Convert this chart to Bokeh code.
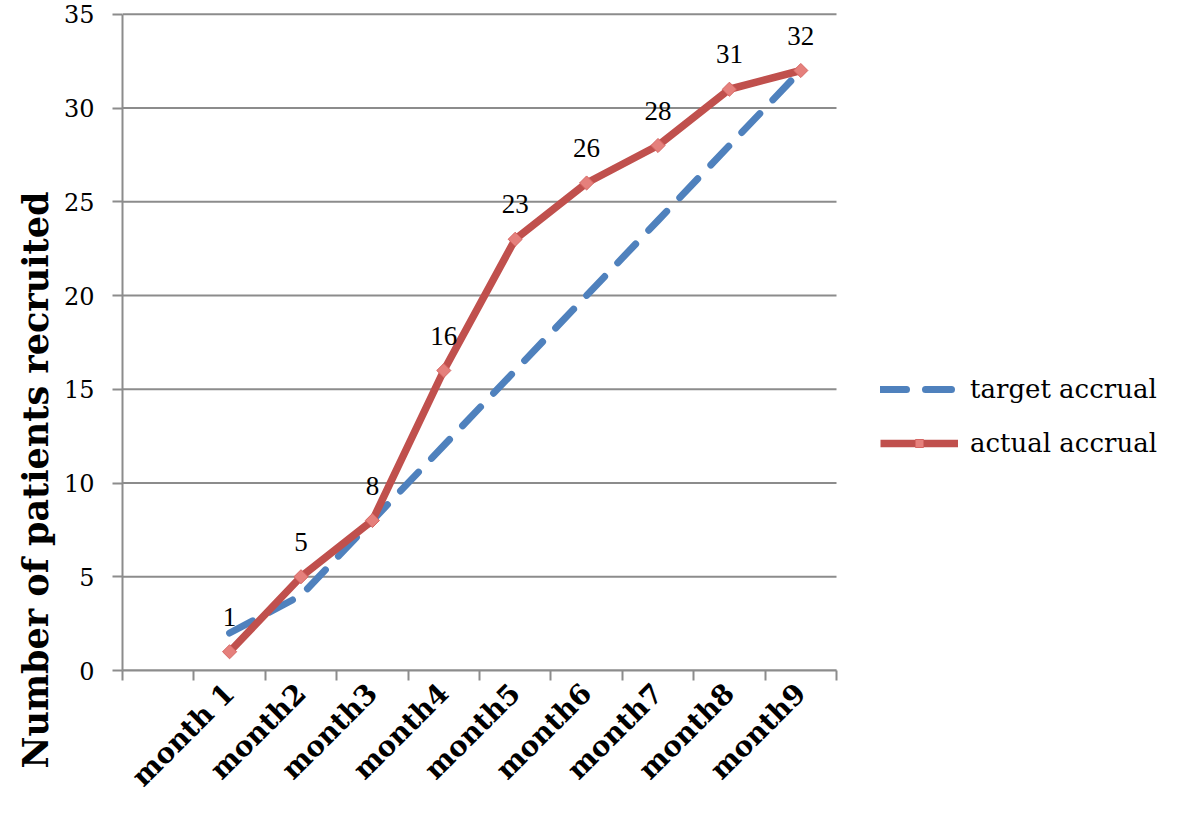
import math
from bokeh.plotting import figure
from bokeh.models import (Range1d, FixedTicker, ColumnDataSource, LabelSet, Title,
                          Legend, LegendItem)
from bokeh.embed import file_html
from bokeh.resources import INLINE

months = ["month 1", "month2", "month3", "month4", "month5",
          "month6", "month7", "month8", "month9"]
target = [2, 4, 8, 12, 16, 20, 24, 28, 32]
actual = [1, 5, 8, 16, 23, 26, 28, 31, 32]
y_ticks = [0, 5, 10, 15, 20, 25, 30, 35]
y_max = 35

# one empty slot precedes month 1 on the category axis
n_slots = len(months) + 1
xpos = [i + 1.5 for i in range(len(months))]

FONT = "DejaVu Serif"
GRID = "#8c8c8c"
RED = "#c0504d"
BLUE = "#4f81bd"

W, H = 1165, 807
LEFT, TOP, BOTTOM = 122, 10, 135
AXIS_W = 714  # pixel width of the category axis
x_end = n_slots * (W - LEFT) / AXIS_W  # frame extends right to hold the legend

p = figure(width=W, height=H, output_backend="svg", toolbar_location=None,
           x_range=Range1d(0, x_end), y_range=Range1d(0, y_max + 0.2),
           min_border_left=LEFT, min_border_right=0, min_border_top=TOP,
           min_border_bottom=BOTTOM)
p.outline_line_color = None
p.background_fill_color = "white"
p.border_fill_color = "white"

# horizontal gridlines limited to the category axis extent
p.xgrid.grid_line_color = None
p.ygrid.grid_line_color = None
grid_src = ColumnDataSource(dict(y=y_ticks, x0=[0] * len(y_ticks),
                                 x1=[n_slots] * len(y_ticks)))
p.segment(x0="x0", x1="x1", y0="y", y1="y", source=grid_src,
          line_color=GRID, line_width=2, level="underlay")

p.yaxis.ticker = FixedTicker(ticks=y_ticks)
p.yaxis.bounds = (0, y_max)
p.yaxis.axis_line_color = GRID
p.yaxis.axis_line_width = 2
p.yaxis.major_tick_line_color = GRID
p.yaxis.major_tick_line_width = 2
p.yaxis.major_tick_out = 10
p.yaxis.major_tick_in = 0
p.yaxis.minor_tick_line_color = None
p.yaxis.major_label_standoff = 18
p.yaxis.major_label_text_font = FONT
p.yaxis.major_label_text_font_size = "24px"
p.yaxis.major_label_text_color = "black"

p.xaxis.ticker = FixedTicker(ticks=xpos, minor_ticks=list(range(n_slots + 1)))
p.xaxis.bounds = (0, n_slots)
p.xaxis.major_label_overrides = {x: m for x, m in zip(xpos, months)}
p.xaxis.major_label_orientation = math.pi / 4
p.xaxis.axis_line_color = GRID
p.xaxis.axis_line_width = 2
p.xaxis.major_tick_line_color = None
p.xaxis.major_tick_out = 10
p.xaxis.major_tick_in = 0
p.xaxis.minor_tick_line_color = GRID
p.xaxis.minor_tick_line_width = 2
p.xaxis.minor_tick_out = 10
p.xaxis.minor_tick_in = 0
p.xaxis.major_label_standoff = 8
p.xaxis.major_label_text_font = FONT
p.xaxis.major_label_text_font_style = "bold"
p.xaxis.major_label_text_font_size = "28px"
p.xaxis.major_label_text_color = "black"

src = ColumnDataSource(dict(x=xpos, target=target, actual=actual,
                            lbl=[str(v) for v in actual]))

r_target = p.line("x", "target", source=src, line_color=BLUE, line_width=7,
                  line_dash="26 19", line_cap="round")
r_actual = p.line("x", "actual", source=src, line_color=RED, line_width=7.5,
                  line_join="round")
r_mark = p.scatter("x", "actual", source=src, marker="square", angle=math.pi / 4,
                   size=10, fill_color="#e5807c", line_color="#d66663", line_width=1)

labels = LabelSet(x="x", y="actual", text="lbl", source=src, text_align="center",
                  text_baseline="bottom", y_offset=26, text_font=FONT,
                  text_font_size="27px", text_color="black")
p.add_layout(labels)

ytitle = Title(text="Number of patients recruited", align="left", offset=-98,
               standoff=10, text_font=FONT, text_font_style="bold",
               text_font_size="35px", text_color="black")
p.add_layout(ytitle, "left")

legend = Legend(items=[LegendItem(label="target accrual", renderers=[r_target]),
                       LegendItem(label="actual accrual", renderers=[r_actual, r_mark])],
                location=(758, 212), glyph_width=78, glyph_height=20,
                label_standoff=12, spacing=24, padding=0, margin=0,
                border_line_color=None, background_fill_alpha=0,
                label_text_font=FONT, label_text_font_size="26px",
                label_text_color="black")
p.add_layout(legend)

open("out.html", "w").write(file_html(p, INLINE))
